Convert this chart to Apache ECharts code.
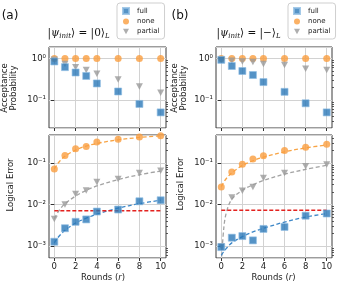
<!DOCTYPE html>
<html>
<head>
<meta charset="utf-8">
<script src="https://cdn.jsdelivr.net/npm/echarts@6/dist/echarts.min.js"></script>
<style>html,body{margin:0;padding:0;background:#fff}#c{width:339px;height:300px}</style>
</head>
<body>
<div id="c"></div>
<script>
// ---- data ----
const rounds = [0, 1, 2, 3, 4, 6, 8, 10];
const xTicks = [0, 2, 4, 6, 8, 10];
const accTicks = [0.1, 1];
const errTicks = [0.001, 0.01, 0.1];
const accMinor = [0.03,0.04,0.05,0.06,0.07,0.08,0.09,0.2,0.3,0.4,0.5,0.6,0.7,0.8,0.9];
const errMinor = [0.0006,0.0007,0.0008,0.0009,0.002,0.003,0.004,0.005,0.006,0.007,0.008,0.009,0.02,0.03,0.04,0.05,0.06,0.07,0.08,0.09,0.2,0.3,0.4];

const accFullA = [0.85, 0.62, 0.46, 0.38, 0.25, 0.16, 0.08, 0.05];
const accNoneA = [1, 1, 1, 1, 1, 1, 1, 1];
const accPartialA = [0.93, 0.74, 0.62, 0.53, 0.43, 0.31, 0.21, 0.15];
const errFullA = [0.00128, 0.0027, 0.00385, 0.0044, 0.0068, 0.0076, 0.012, 0.0127];
const errNoneA = [0.072, 0.152, 0.22, 0.25, 0.32, 0.37, 0.42, 0.45];
const errPartialA = [0.0045, 0.01, 0.018, 0.0217, 0.035, 0.041, 0.057, 0.065];

const accFullB = [0.93, 0.66, 0.50, 0.40, 0.27, 0.157, 0.083, 0.05];
const accNoneB = [1, 1, 1, 1, 1, 1, 1, 1];
const accPartialB = [0.92, 0.88, 0.85, 0.82, 0.74, 0.70, 0.57, 0.53];
const errFullB = [0.00095, 0.0016, 0.00175, 0.00138, 0.0026, 0.0029, 0.0054, 0.0061];
const errNoneB = [0.0266, 0.061, 0.093, 0.125, 0.15, 0.20, 0.24, 0.28];
const errPartialB = [0.001, 0.0148, 0.0214, 0.0266, 0.0437, 0.0576, 0.083, 0.092];

// dashed fit curves
const fitRounds = [0, 0.25, 0.5, 1, 2, 3, 4, 6, 8, 10];
const fitFullA = [0.0012, 0.0015, 0.0018, 0.0024, 0.0036, 0.0047, 0.0059, 0.0082, 0.0105, 0.0128];
const fitNoneA = [0.072, 0.09, 0.11, 0.145, 0.205, 0.255, 0.295, 0.36, 0.41, 0.45];
const fitPartialA = [0.0046, 0.006, 0.0075, 0.0105, 0.016, 0.022, 0.028, 0.04, 0.052, 0.064];
const fitFullB = [0.0006, 0.00075, 0.0009, 0.0012, 0.0017, 0.0022, 0.0027, 0.0038, 0.005, 0.0061];
const fitNoneB = [0.027, 0.035, 0.043, 0.058, 0.087, 0.113, 0.138, 0.185, 0.23, 0.27];
const fitPartialB = [0.0004, 0.0029, 0.0067, 0.0135, 0.022, 0.03, 0.038, 0.054, 0.07, 0.088];

const thresholdRounds = [0, 10];
const thresholdA = 0.0071;
const thresholdB = 0.0073;

// ---- styling ----
const FONT = 'DejaVu Sans';
const C_FULL = '#2a78b8', C_FULL_E = '#8fbde2';
const C_NONE = '#fa9e3e';
const C_PART = '#9a9a9a';
const TRI_DOWN = 'path://M0,0 L10,0 L5,9 Z';
const sup = {'0':'⁰','1':'¹','2':'²','3':'³','-':'⁻'};
function powLabel(v){
  const e = Math.round(Math.log10(v));
  return '10' + String(e).split('').map(ch => sup[ch]).join('');
}
const pairs = (xs, ys) => xs.map((x, i) => [x, ys[i]]);

const grids = [
  {left: 49, top: 47, width: 117, height: 81},
  {left: 49, top: 135, width: 117, height: 123},
  {left: 216, top: 47, width: 116, height: 81},
  {left: 216, top: 135, width: 116, height: 123}
].map(g => Object.assign(g, {show: true, borderColor: '#3a3a3a', borderWidth: 1, containLabel: false}));

const xAxes = grids.map((g, i) => ({
  type: 'value', gridIndex: i, min: -0.5, max: 10.5,
  axisLine: {show: false},
  axisTick: {show: true, length: 3, inside: false, customValues: xTicks, lineStyle: {color: '#333'}},
  axisLabel: {show: i % 2 === 1, customValues: xTicks, fontFamily: FONT, fontSize: 8.5, color: '#222', margin: 4},
  splitLine: {show: true, lineStyle: {color: '#d2d2d2', width: 1}}
}));

const isTop = i => i % 2 === 0;
const yMajor = grids.map((g, i) => ({
  type: 'log', logBase: 10, gridIndex: i,
  min: isTop(i) ? 0.021 : 0.00052,
  max: isTop(i) ? 1.9 : 0.47,
  axisLine: {show: false},
  axisTick: {show: true, length: 3.5, customValues: isTop(i) ? accTicks : errTicks, lineStyle: {color: '#333'}},
  axisLabel: {show: true, customValues: isTop(i) ? accTicks : errTicks, formatter: v => powLabel(v),
    fontFamily: FONT, fontSize: 8.5, color: '#222', margin: 3},
  splitLine: {show: false}
}));
const yMinor = grids.map((g, i) => ({
  type: 'log', logBase: 10, gridIndex: i,
  min: isTop(i) ? 0.021 : 0.00052,
  max: isTop(i) ? 1.9 : 0.47,
  axisLine: {show: false},
  axisTick: {show: true, length: 2, customValues: isTop(i) ? accMinor : errMinor, lineStyle: {color: '#333', width: 0.8}},
  axisLabel: {show: false},
  splitLine: {show: false}
}));
// grid lines at decades via a third hidden-label axis
const yGridLines = grids.map((g, i) => ({
  type: 'log', logBase: 10, gridIndex: i,
  min: isTop(i) ? 0.021 : 0.00052,
  max: isTop(i) ? 1.9 : 0.47,
  axisLine: {show: false}, axisTick: {show: false}, axisLabel: {show: false},
  splitLine: {show: true, lineStyle: {color: '#d2d2d2', width: 1}}
}));

const series = [];
function addScatter(name, ys, gi, kind){
  const base = {name, type: 'scatter', xAxisIndex: gi, yAxisIndex: gi, data: pairs(rounds, ys)};
  if (kind === 'full') Object.assign(base, {symbol: 'rect', symbolSize: 7, z: 6,
    itemStyle: {color: C_FULL, borderColor: C_FULL_E, borderWidth: 0.8}});
  if (kind === 'none') Object.assign(base, {symbol: 'circle', symbolSize: 7, z: 4,
    itemStyle: {color: C_NONE}});
  if (kind === 'partial') Object.assign(base, {symbol: TRI_DOWN, symbolSize: [7, 6.5], z: 5,
    itemStyle: {color: C_PART}});
  series.push(base);
}
function addFit(name, ys, gi, color){
  series.push({name, type: 'line', xAxisIndex: gi, yAxisIndex: gi, data: pairs(fitRounds, ys),
    smooth: 0.35, showSymbol: false, symbol: 'none', z: 3, silent: true,
    lineStyle: {color, width: 1.3, type: [4, 2.5]}});
}
function addThreshold(val, gi){
  series.push({name: 'threshold', type: 'line', xAxisIndex: gi, yAxisIndex: gi,
    data: thresholdRounds.map(x => [x, val]), showSymbol: false, symbol: 'none', z: 3, silent: true,
    lineStyle: {color: '#e3221f', width: 1.3, type: [4, 2]}});
}

addScatter('none', accNoneA, 0, 'none');
addScatter('partial', accPartialA, 0, 'partial');
addScatter('full', accFullA, 0, 'full');

addFit('fitNoneA', fitNoneA, 1, '#f8a445');
addFit('fitPartialA', fitPartialA, 1, '#a3a3a3');
addFit('fitFullA', fitFullA, 1, '#3d87c7');
addThreshold(thresholdA, 1);
addScatter('none', errNoneA, 1, 'none');
addScatter('partial', errPartialA, 1, 'partial');
addScatter('full', errFullA, 1, 'full');

addScatter('none', accNoneB, 2, 'none');
addScatter('partial', accPartialB, 2, 'partial');
addScatter('full', accFullB, 2, 'full');

addFit('fitNoneB', fitNoneB, 3, '#f8a445');
addFit('fitPartialB', fitPartialB, 3, '#a3a3a3');
addFit('fitFullB', fitFullB, 3, '#3d87c7');
addThreshold(thresholdB, 3);
addScatter('none', errNoneB, 3, 'none');
addScatter('partial', errPartialB, 3, 'partial');
addScatter('full', errFullB, 3, 'full');

const legendBase = {
  data: ['full', 'none', 'partial'], orient: 'vertical', top: 3,
  itemWidth: 6, itemHeight: 6, itemGap: 3,
  padding: [4, 5, 4, 5], borderColor: '#cfcfcf', borderWidth: 1, borderRadius: 3,
  backgroundColor: '#fff', selectedMode: false,
  textStyle: {fontFamily: FONT, fontSize: 7, color: '#222', lineHeight: 7, padding: [0, 0, 0, 3]}
};

const titleRich = {
  n: {fontFamily: 'DejaVu Serif', fontSize: 10.5, fill: '#111', verticalAlign: 'middle', lineHeight: 13},
  i: {fontFamily: 'DejaVu Serif', fontStyle: 'italic', fontSize: 10.5, fill: '#111', verticalAlign: 'middle', lineHeight: 13},
  s: {fontFamily: 'DejaVu Serif', fontStyle: 'italic', fontSize: 7, fill: '#111', verticalAlign: 'bottom', lineHeight: 13}
};
function txt(x, y, text, opts){
  return {type: 'text', x, y, style: Object.assign({text, fontFamily: FONT, fontSize: 8.5, fill: '#222',
    align: 'center', verticalAlign: 'middle'}, opts || {})};
}
const roundsRich = {a: {fontFamily: FONT, fontSize: 8.5, fill: '#222'}, b: {fontFamily: FONT, fontStyle: 'italic', fontSize: 8.5, fill: '#222'}};
const graphics = [
  txt(10, 16, '(a)', {fontSize: 12, fill: '#111'}),
  txt(180, 16, '(b)', {fontSize: 12, fill: '#111'}),
  txt(78.5, 33, '{n||}{i|ψ}{s|init}{n|⟩ = |0⟩}{s|L}', {rich: titleRich}),
  txt(248.5, 33, '{n||}{i|ψ}{s|init}{n|⟩ = |−⟩}{s|L}', {rich: titleRich}),
  Object.assign(txt(9.5, 88, 'Acceptance\nProbability', {lineHeight: 9}), {rotation: Math.PI / 2}),
  Object.assign(txt(179.5, 88, 'Acceptance\nProbability', {lineHeight: 9}), {rotation: Math.PI / 2}),
  Object.assign(txt(11, 185, 'Logical Error'), {rotation: Math.PI / 2}),
  Object.assign(txt(181, 184, 'Logical Error'), {rotation: Math.PI / 2}),
  txt(103, 278, '{a|Rounds (}{b|r}{a|)}', {rich: roundsRich}),
  txt(273.5, 278, '{a|Rounds (}{b|r}{a|)}', {rich: roundsRich})
];

const chart = echarts.init(document.getElementById('c'), null, {renderer: 'canvas'});
chart.setOption({
  animation: false,
  backgroundColor: '#fff',
  grid: grids,
  xAxis: xAxes,
  yAxis: yMajor.concat(yMinor, yGridLines),
  legend: [Object.assign({left: 117}, legendBase), Object.assign({left: 288}, legendBase)],
  series,
  graphic: graphics
});
</script>
</body>
</html>
